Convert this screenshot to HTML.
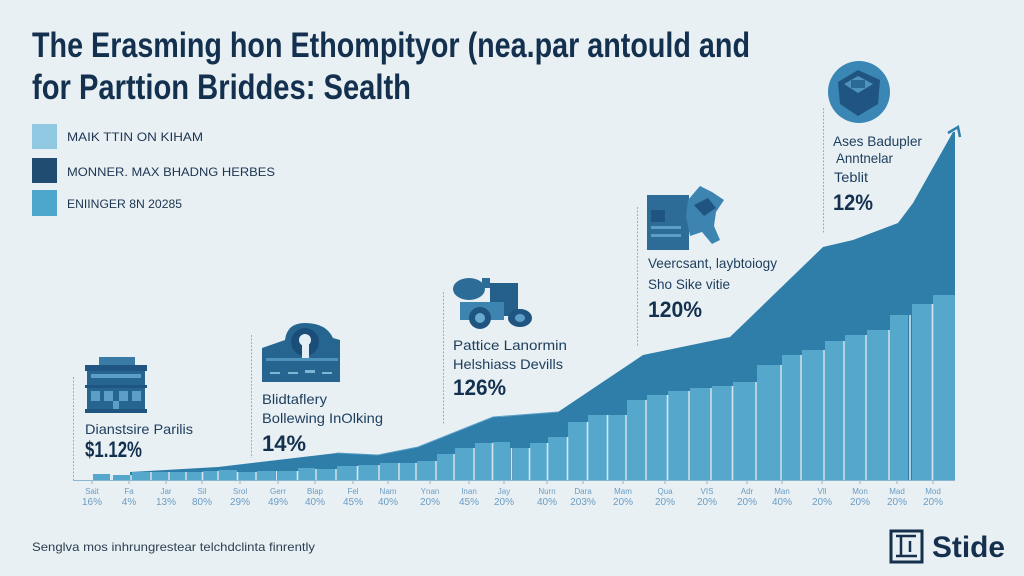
<!DOCTYPE html>
<html><head><meta charset="utf-8"><style>
html,body{margin:0;padding:0;background:#e8f0f4;}
svg{display:block;}
text{font-family:"Liberation Sans",sans-serif;}
</style></head><body>
<svg width="1024" height="576" viewBox="0 0 1024 576" xmlns="http://www.w3.org/2000/svg">
<rect width="1024" height="576" fill="#e8f0f4"/>
<!-- Title -->
<text x="32" y="57" font-size="35" font-weight="bold" fill="#13304f" textLength="718" lengthAdjust="spacingAndGlyphs">The Erasming hon Ethompityor (nea.par antould and</text>
<text x="32" y="99" font-size="35" font-weight="bold" fill="#13304f" textLength="379" lengthAdjust="spacingAndGlyphs">for Parttion Briddes: Sealth</text>
<!-- Legend -->
<rect x="32" y="124" width="25" height="25" fill="#8fc8e0"/>
<rect x="32" y="158" width="25" height="25" fill="#1f4c70"/>
<rect x="32" y="190" width="25" height="26" fill="#4da6cc"/>
<text x="67" y="141" font-size="12" fill="#1c3550" textLength="136" lengthAdjust="spacingAndGlyphs">MAIK TTIN ON KIHAM</text>
<text x="67" y="176" font-size="12" fill="#1c3550" textLength="208" lengthAdjust="spacingAndGlyphs">MONNER. MAX BHADNG HERBES</text>
<text x="67" y="208" font-size="12" fill="#1c3550" textLength="115" lengthAdjust="spacingAndGlyphs">ENIINGER 8N 20285</text>

<!-- Area -->
<path d="M130,472 L218,467 L337,453 L378,455 L418,447 L493,417 L500,417 L558,412 L643,355 L730,337 L823,247 L853,240 L898,223 L913,203 L953,132 L955,132 L955,480 L130,480 Z" fill="#2f7eaa"/>
<path d="M337,453 L378,455 L418,447 L493,417 L558,412" fill="none" stroke="#5a9fc6" stroke-width="1"/>
<path d="M948,133 L958,127 L960,137" fill="none" stroke="#2f7eaa" stroke-width="2.5"/>

<!-- Bars -->
<g fill="#55a8cc">
<rect x="93" y="474" width="17" height="6"/>
<rect x="113" y="475" width="17" height="5"/>
<rect x="132" y="472" width="18" height="8"/>
<rect x="152" y="472" width="16" height="8"/>
<rect x="170" y="472" width="15" height="8"/>
<rect x="187" y="472" width="15" height="8"/>
<rect x="203" y="471" width="14" height="9"/>
<rect x="219" y="470" width="18" height="10"/>
<rect x="238" y="472" width="17" height="8"/>
<rect x="257" y="471" width="18" height="9"/>
<rect x="278" y="471" width="19" height="9"/>
<rect x="298" y="468" width="17" height="12"/>
<rect x="317" y="469" width="18" height="11"/>
<rect x="337" y="466" width="20" height="14"/>
<rect x="358" y="465" width="20" height="15"/>
<rect x="380" y="463" width="18" height="17"/>
<rect x="400" y="463" width="15" height="17"/>
<rect x="417" y="461" width="18" height="19"/>
<rect x="437" y="454" width="16" height="26"/>
<rect x="455" y="448" width="18" height="32"/>
<rect x="475" y="443" width="17" height="37"/>
<rect x="493" y="442" width="17" height="38"/>
<rect x="513" y="448" width="16" height="32"/>
<rect x="530" y="443" width="17" height="37"/>
<rect x="548" y="437" width="19" height="43"/>
<rect x="568" y="422" width="19" height="58"/>
<rect x="588" y="415" width="19" height="65"/>
<rect x="608" y="415" width="17" height="65"/>
<rect x="627" y="400" width="18" height="80"/>
<rect x="647" y="395" width="20" height="85"/>
<rect x="668" y="391" width="20" height="89"/>
<rect x="690" y="388" width="20" height="92"/>
<rect x="712" y="386" width="20" height="94"/>
<rect x="733" y="382" width="22" height="98"/>
<rect x="757" y="365" width="23" height="115"/>
<rect x="782" y="355" width="18" height="125"/>
<rect x="802" y="350" width="21" height="130"/>
<rect x="825" y="341" width="18" height="139"/>
<rect x="845" y="335" width="20" height="145"/>
<rect x="867" y="330" width="21" height="150"/>
<rect x="890" y="315" width="18" height="165"/>
<rect x="912" y="304" width="20" height="176"/>
<rect x="933" y="295" width="22" height="185"/>
</g>
<!-- bar separators -->
<g stroke="#d3e6ef" stroke-width="1.6">
<line x1="111.5" y1="475" x2="111.5" y2="480"/>
<line x1="131" y1="475" x2="131" y2="480"/>
<line x1="151" y1="472" x2="151" y2="480"/>
<line x1="169" y1="472" x2="169" y2="480"/>
<line x1="186" y1="472" x2="186" y2="480"/>
<line x1="202.5" y1="472" x2="202.5" y2="480"/>
<line x1="218" y1="471" x2="218" y2="480"/>
<line x1="237.5" y1="472" x2="237.5" y2="480"/>
<line x1="256" y1="472" x2="256" y2="480"/>
<line x1="276.5" y1="471" x2="276.5" y2="480"/>
<line x1="297.5" y1="471" x2="297.5" y2="480"/>
<line x1="316" y1="469" x2="316" y2="480"/>
<line x1="336" y1="469" x2="336" y2="480"/>
<line x1="357.5" y1="466" x2="357.5" y2="480"/>
<line x1="379" y1="465" x2="379" y2="480"/>
<line x1="399" y1="463" x2="399" y2="480"/>
<line x1="416" y1="463" x2="416" y2="480"/>
<line x1="436" y1="461" x2="436" y2="480"/>
<line x1="454" y1="454" x2="454" y2="480"/>
<line x1="474" y1="448" x2="474" y2="480"/>
<line x1="492.5" y1="443" x2="492.5" y2="480"/>
<line x1="511.5" y1="448" x2="511.5" y2="480"/>
<line x1="529.5" y1="448" x2="529.5" y2="480"/>
<line x1="547.5" y1="443" x2="547.5" y2="480"/>
<line x1="567.5" y1="437" x2="567.5" y2="480"/>
<line x1="587.5" y1="422" x2="587.5" y2="480"/>
<line x1="607.5" y1="415" x2="607.5" y2="480"/>
<line x1="626" y1="415" x2="626" y2="480"/>
<line x1="646" y1="400" x2="646" y2="480"/>
<line x1="667.5" y1="395" x2="667.5" y2="480"/>
<line x1="689" y1="391" x2="689" y2="480"/>
<line x1="711" y1="388" x2="711" y2="480"/>
<line x1="732.5" y1="386" x2="732.5" y2="480"/>
<line x1="756" y1="382" x2="756" y2="480"/>
<line x1="781" y1="365" x2="781" y2="480"/>
<line x1="801" y1="355" x2="801" y2="480"/>
<line x1="824" y1="350" x2="824" y2="480"/>
<line x1="844" y1="341" x2="844" y2="480"/>
<line x1="866" y1="335" x2="866" y2="480"/>
<line x1="889" y1="330" x2="889" y2="480"/>
<line x1="910" y1="315" x2="910" y2="480"/>
<line x1="932.5" y1="304" x2="932.5" y2="480"/>
</g>
<!-- baseline & ticks -->
<line x1="73" y1="480.5" x2="955" y2="480.5" stroke="#8fb6cf" stroke-width="1"/>
<g stroke="#8fb6cf" stroke-width="1">
<line x1="92" y1="480" x2="92" y2="484"/><line x1="129" y1="480" x2="129" y2="484"/><line x1="166" y1="480" x2="166" y2="484"/><line x1="202" y1="480" x2="202" y2="484"/><line x1="240" y1="480" x2="240" y2="484"/><line x1="278" y1="480" x2="278" y2="484"/><line x1="315" y1="480" x2="315" y2="484"/><line x1="353" y1="480" x2="353" y2="484"/><line x1="388" y1="480" x2="388" y2="484"/><line x1="430" y1="480" x2="430" y2="484"/><line x1="469" y1="480" x2="469" y2="484"/><line x1="504" y1="480" x2="504" y2="484"/><line x1="547" y1="480" x2="547" y2="484"/><line x1="583" y1="480" x2="583" y2="484"/><line x1="623" y1="480" x2="623" y2="484"/><line x1="665" y1="480" x2="665" y2="484"/><line x1="707" y1="480" x2="707" y2="484"/><line x1="747" y1="480" x2="747" y2="484"/><line x1="782" y1="480" x2="782" y2="484"/><line x1="822" y1="480" x2="822" y2="484"/><line x1="860" y1="480" x2="860" y2="484"/><line x1="897" y1="480" x2="897" y2="484"/><line x1="933" y1="480" x2="933" y2="484"/>
</g>

<!-- Axis labels -->
<g font-size="8" fill="#6b9cc4" text-anchor="middle">
<text x="92" y="494">Sait</text><text x="129" y="494">Fa</text><text x="166" y="494">Jar</text><text x="202" y="494">Sil</text><text x="240" y="494">Srol</text><text x="278" y="494">Gerr</text><text x="315" y="494">Blap</text><text x="353" y="494">Fel</text><text x="388" y="494">Nam</text><text x="430" y="494">Ynan</text><text x="469" y="494">Inan</text><text x="504" y="494">Jay</text><text x="547" y="494">Nurn</text><text x="583" y="494">Dara</text><text x="623" y="494">Mam</text><text x="665" y="494">Qua</text><text x="707" y="494">VIS</text><text x="747" y="494">Adr</text><text x="782" y="494">Man</text><text x="822" y="494">Vll</text><text x="860" y="494">Mon</text><text x="897" y="494">Mad</text><text x="933" y="494">Mod</text>
</g>
<g font-size="10" fill="#6b9cc4" text-anchor="middle">
<text x="92" y="505">16%</text><text x="129" y="505">4%</text><text x="166" y="505">13%</text><text x="202" y="505">80%</text><text x="240" y="505">29%</text><text x="278" y="505">49%</text><text x="315" y="505">40%</text><text x="353" y="505">45%</text><text x="388" y="505">40%</text><text x="430" y="505">20%</text><text x="469" y="505">45%</text><text x="504" y="505">20%</text><text x="547" y="505">40%</text><text x="583" y="505">203%</text><text x="623" y="505">20%</text><text x="665" y="505">20%</text><text x="707" y="505">20%</text><text x="747" y="505">20%</text><text x="782" y="505">40%</text><text x="822" y="505">20%</text><text x="860" y="505">20%</text><text x="897" y="505">20%</text><text x="933" y="505">20%</text>
</g>

<!-- Callout lines -->
<g stroke="#8ab5d0" stroke-width="1" stroke-dasharray="2,1.5">
<line x1="73.5" y1="377" x2="73.5" y2="480"/>
<line x1="251.5" y1="335" x2="251.5" y2="458"/>
<line x1="443.5" y1="292" x2="443.5" y2="425"/>
<line x1="637.5" y1="207" x2="637.5" y2="346"/>
<line x1="823.5" y1="108" x2="823.5" y2="233"/>
</g>

<!-- Callout texts -->
<g fill="#1d3d5c" font-size="14">
<text x="85" y="434" textLength="108" lengthAdjust="spacingAndGlyphs">Dianstsire Parilis</text>
<text x="262" y="404" textLength="65" lengthAdjust="spacingAndGlyphs">Blidtaflery</text>
<text x="262" y="423" textLength="121" lengthAdjust="spacingAndGlyphs">Bollewing InOlking</text>
<text x="453" y="350" textLength="114" lengthAdjust="spacingAndGlyphs">Pattice Lanormin</text>
<text x="453" y="369" textLength="110" lengthAdjust="spacingAndGlyphs">Helshiass Devills</text>
<text x="648" y="268" textLength="129" lengthAdjust="spacingAndGlyphs">Veercsant, laybtoiogy</text>
<text x="648" y="289" textLength="82" lengthAdjust="spacingAndGlyphs">Sho Sike vitie</text>
<text x="833" y="146" textLength="89" lengthAdjust="spacingAndGlyphs">Ases Badupler</text>
<text x="836" y="163" textLength="57" lengthAdjust="spacingAndGlyphs">Anntnelar</text>
<text x="834" y="182" textLength="34" lengthAdjust="spacingAndGlyphs">Teblit</text>
</g>
<g fill="#13304f" font-weight="bold" font-size="22">
<text x="85" y="457" textLength="57" lengthAdjust="spacingAndGlyphs">$1.12%</text>
<text x="262" y="451" textLength="44" lengthAdjust="spacingAndGlyphs">14%</text>
<text x="453" y="395" textLength="53" lengthAdjust="spacingAndGlyphs">126%</text>
<text x="648" y="317" textLength="54" lengthAdjust="spacingAndGlyphs">120%</text>
<text x="833" y="210" textLength="40" lengthAdjust="spacingAndGlyphs">12%</text>
</g>

<!-- Icon 1: building -->
<g>
<rect x="99" y="357" width="36" height="8" fill="#3a7ba5"/>
<rect x="85" y="365" width="62" height="6" fill="#1f5580"/>
<rect x="87" y="371" width="58" height="40" fill="#26658f"/>
<rect x="85" y="385" width="62" height="3" fill="#1f5580"/>
<g fill="#5c9fc6">
<rect x="91" y="374" width="50" height="4"/>
<rect x="91" y="391" width="9" height="10"/><rect x="104" y="391" width="9" height="10"/><rect x="119" y="391" width="9" height="10"/><rect x="132" y="391" width="9" height="10"/>
<rect x="113" y="401" width="6" height="10"/>
</g>
<rect x="85" y="409" width="62" height="4" fill="#1f5580"/>
</g>

<!-- Icon 2: arch -->
<g>
<path d="M262,348 L285,340 Q287,323 305,323 Q326,323 333,338 L340,340 L340,382 L262,382 Z" fill="#26658f"/>
<circle cx="305" cy="342" r="14" fill="#1a4e78"/>
<circle cx="305" cy="340" r="6" fill="#e4eff5"/>
<rect x="302" y="342" width="7" height="18" fill="#e4eff5"/>
<rect x="266" y="358" width="72" height="3" fill="#4f93bd"/>
<g fill="#7fb6d6"><rect x="270" y="372" width="10" height="2"/><rect x="288" y="372" width="10" height="2"/><rect x="305" y="370" width="10" height="3"/><rect x="322" y="372" width="10" height="2"/></g>
</g>

<!-- Icon 3: vehicle -->
<g>
<ellipse cx="469" cy="289" rx="16" ry="11" fill="#2d6c96"/>
<rect x="482" y="278" width="8" height="10" fill="#2d6c96"/>
<rect x="490" y="283" width="28" height="33" fill="#24608a"/>
<rect x="460" y="302" width="44" height="18" fill="#3d85b0"/>
<circle cx="480" cy="318" r="11" fill="#1f5580"/><circle cx="480" cy="318" r="5" fill="#6aaad0"/>
<ellipse cx="520" cy="318" rx="12" ry="9" fill="#1f5580"/><ellipse cx="520" cy="318" rx="5" ry="4" fill="#5c9fc6"/>
</g>

<!-- Icon 4: machine -->
<g>
<rect x="647" y="195" width="42" height="55" fill="#2d6c96"/>
<rect x="651" y="210" width="14" height="12" fill="#1f5580"/>
<rect x="651" y="226" width="30" height="3" fill="#5c9fc6"/>
<rect x="651" y="234" width="30" height="3" fill="#5c9fc6"/>
<path d="M688,200 L700,186 L712,192 L724,200 L716,212 L714,226 L720,240 L712,244 L702,232 L690,236 L686,216 Z" fill="#3d85b0"/>
<path d="M694,205 L708,198 L716,208 L704,216 Z" fill="#1f5580"/>
</g>

<!-- Icon 5: circle box -->
<g>
<circle cx="859" cy="92" r="31" fill="#3a86b5"/>
<path d="M838,82 L858,70 L880,80 L878,104 L858,116 L840,104 Z" fill="#1f5580"/>
<path d="M844,84 L858,76 L873,84 L858,93 Z" fill="#4f93bd"/>
<rect x="851" y="80" width="14" height="8" fill="#2a6a95"/>
</g>

<!-- Footer -->
<text x="32" y="551" font-size="12" fill="#2c3e50" textLength="283" lengthAdjust="spacingAndGlyphs">Senglva mos inhrungrestear telchdclinta finrently</text>

<!-- Logo -->
<g>
<rect x="891" y="531" width="31" height="31" fill="none" stroke="#14304d" stroke-width="3"/>
<path d="M896,536 L916,536 M901,536 L901,556 M896,556 L917,556 M910,541 L910,552" stroke="#14304d" stroke-width="2.5" fill="none"/>
<text x="932" y="557" font-size="30" font-weight="bold" fill="#14304d" textLength="73" lengthAdjust="spacingAndGlyphs">Stide</text>
</g>
</svg>
</body></html>
